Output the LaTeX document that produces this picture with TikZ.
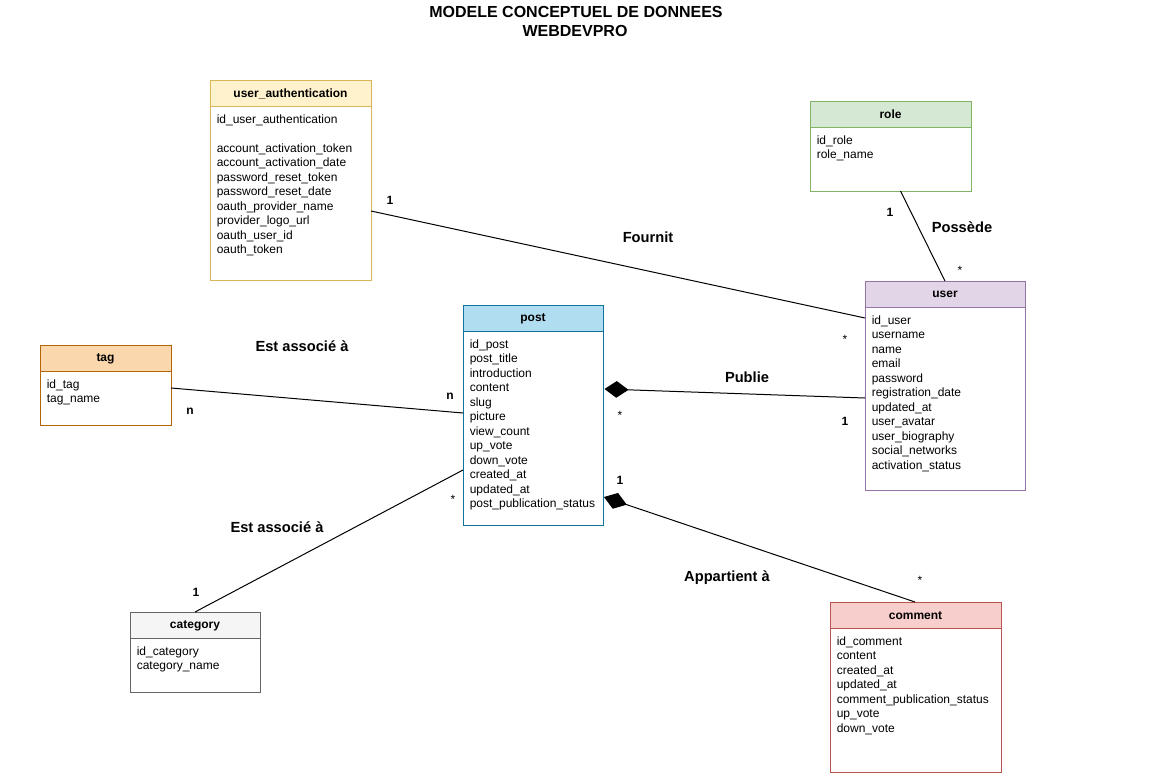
\documentclass[tikz,border=0pt]{standalone}
\usepackage{fontspec}
\setmainfont{Liberation Sans}
\usetikzlibrary{arrows.meta,calc}
\definecolor{uaF}{HTML}{FFF2CC}\definecolor{uaD}{HTML}{D6B656}
\definecolor{roF}{HTML}{D5E8D4}\definecolor{roD}{HTML}{82B366}
\definecolor{usF}{HTML}{E1D5E7}\definecolor{usD}{HTML}{9673A6}
\definecolor{poF}{HTML}{B1DDF0}\definecolor{poD}{HTML}{10739E}
\definecolor{taF}{HTML}{FAD7AC}\definecolor{taD}{HTML}{B46504}
\definecolor{caF}{HTML}{F5F5F5}\definecolor{caD}{HTML}{666666}
\definecolor{coF}{HTML}{F8CECC}\definecolor{coD}{HTML}{B85450}
\tikzset{
  hdr/.style={font=\fontsize{9}{10.8}\selectfont\bfseries, inner sep=0pt},
  bodytxt/.style={font=\fontsize{9}{10.85}\selectfont, inner sep=0pt, align=left, anchor=north west},
  lbl/.style={font=\fontsize{11}{13}\selectfont\bfseries, inner sep=0pt},
  mult/.style={font=\fontsize{9}{10.8}\selectfont\bfseries, inner sep=0pt},
  star/.style={font=\fontsize{9}{10.8}\selectfont, inner sep=0pt},
  conn/.style={line width=0.75pt, black},
  compo/.style={conn, -{Diamond[length=18pt,width=12.5pt]}},
}
\newcommand\entity[9]{%
  \node[draw=#7, fill=white, line width=0.75pt, minimum width={#4*0.75pt}, minimum height={#5*0.75pt}, anchor=north west, inner sep=0pt, outer sep=0pt] (#1) at (#2,#3) {};
  \draw[draw=#7, fill=#6, line width=0.75pt] (#1.north west) rectangle ($(#1.north east)+(0,26)$);
  \node[hdr] (#1-t) at ($(#1.north)+(0,13.5)$) {#8};
  \node[bodytxt] (#1-b) at ($(#1.north west)+(6.5,34.5)$) {#9};
}
\begin{document}
\begin{tikzpicture}[x=0.75pt,y=-0.75pt]
\useasboundingbox (0,0) rectangle (1150,775);
\node[font=\fontsize{12}{14}\selectfont\bfseries, inner sep=0pt] (title1) at (576,12) {MODELE CONCEPTUEL DE DONNEES};
\node[font=\fontsize{12}{14}\selectfont\bfseries, inner sep=0pt] (title2) at (575,30.5) {WEBDEVPRO};

\entity{ua}{210}{80}{161}{200}{uaF}{uaD}{user\_authentication}{id\_user\_authentication\\ \mbox{}\\ account\_activation\_token\\ account\_activation\_date\\ password\_reset\_token\\ password\_reset\_date\\ oauth\_provider\_name\\ provider\_logo\_url\\ oauth\_user\_id\\ oauth\_token}
\entity{role}{810}{101}{161}{90}{roF}{roD}{role}{id\_role\\ role\_name}
\entity{user}{865}{281}{160}{209}{usF}{usD}{user}{id\_user\\ username\\ name\\ email\\ password\\ registration\_date\\ updated\_at\\ user\_avatar\\ user\_biography\\ social\_networks\\ activation\_status}
\entity{post}{463}{305}{140}{220}{poF}{poD}{post}{id\_post\\ post\_title\\ introduction\\ content\\ slug\\ picture\\ view\_count\\ up\_vote\\ down\_vote\\ created\_at\\ updated\_at\\ post\_publication\_status}
\entity{tag}{40}{345}{131}{80}{taF}{taD}{tag}{id\_tag\\ tag\_name}
\entity{cat}{130}{612}{130}{80}{caF}{caD}{category}{id\_category\\ category\_name}
\entity{comment}{830}{602}{171}{170}{coF}{coD}{comment}{id\_comment\\ content\\ created\_at\\ updated\_at\\ comment\_publication\_status\\ up\_vote\\ down\_vote}

% connectors
\draw[conn] ($(ua.north east)+(0,131)$) -- ($(user.north west)+(0,37)$);
\draw[conn] ($(role.south)+(10,0)$) -- (user.north);
\draw[conn] ($(tag.north east)+(0,43)$) -- ($(post.north west)+(0,108)$);
\draw[conn] (cat.north) -- ($(post.north west)+(0,165)$);
\draw[compo] ($(user.north west)+(0,117)$) -- ($(post.north east)+(1.5,84)$);
\draw[compo] ($(comment.north west)+(85,0)$) -- ($(post.north east)+(1,192)$);

% labels
\node[mult] (m1) at (390,200) {1};
\node[lbl] (fournit) at (648,237) {Fournit};
\node[star] (s1) at (845,339) {*};
\node[mult] (m2) at (890,212) {1};
\node[lbl] (possede) at (962,227) {Possède};
\node[star] (s2) at (960,270) {*};
\node[lbl] (assoc1) at (302,346) {Est associé à};
\node[mult] (n1) at (190,411) {n};
\node[mult] (n2) at (450,396) {n};
\node[lbl] (publie) at (747,377) {Publie};
\node[star] (s3) at (620,415) {*};
\node[mult] (m3) at (845,421) {1};
\node[mult] (m4) at (620,480) {1};
\node[star] (s4) at (453,499) {*};
\node[lbl] (assoc2) at (277,527) {Est associé à};
\node[mult] (m5) at (196,592) {1};
\node[lbl] (appart) at (727,578) {Appartient à};
\node[star] (s5) at (920,580) {*};
\end{tikzpicture}
\end{document}
